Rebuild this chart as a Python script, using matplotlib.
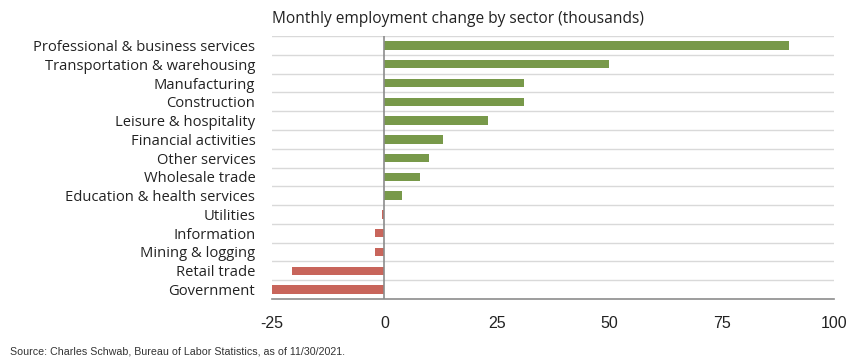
import matplotlib
matplotlib.use("Agg")
import matplotlib.pyplot as plt
import numpy as np

sectors = [
    "Professional & business services",
    "Transportation & warehousing",
    "Manufacturing",
    "Construction",
    "Leisure & hospitality",
    "Financial activities",
    "Other services",
    "Wholesale trade",
    "Education & health services",
    "Utilities",
    "Information",
    "Mining & logging",
    "Retail trade",
    "Government",
]
change = [90, 50, 31, 31, 23, 13, 10, 8, 4, -0.5, -2, -2, -20.5, -25]
x_ticks = [-25, 0, 25, 50, 75, 100]

GREEN = "#78994a"
RED = "#c8655b"

fig = plt.figure(figsize=(8.66, 3.61), dpi=100)
ax = fig.add_axes([0.314, 0.172, 0.649, 0.728])

y = np.arange(len(sectors))
colors = [GREEN if v >= 0 else RED for v in change]
ax.barh(y, change, height=0.45, color=colors, zorder=3)

ax.set_xlim(-25, 100)
ax.set_ylim(len(sectors) - 0.5, -0.5)

# light separators between categories
for b in np.arange(-0.5, len(sectors) - 0.5, 1.0):
    ax.axhline(b, color="#d9d9d9", linewidth=1.0, zorder=1)
ax.axvline(0, color="#8c8c8c", linewidth=1.2, zorder=4)

for s in ["top", "right", "left"]:
    ax.spines[s].set_visible(False)
ax.spines["bottom"].set_color("#8c8c8c")
ax.spines["bottom"].set_linewidth(1.2)

ax.set_yticks(y)
ax.set_yticklabels(sectors, fontsize=10.6, family="Open Sans", color="#222222")
ax.tick_params(axis="y", length=0, pad=12)

ax.set_xticks(x_ticks)
ax.set_xticklabels([str(t) for t in x_ticks], fontsize=11.5,
                   family="Liberation Sans", color="#222222")
ax.tick_params(axis="x", length=0, pad=12)

fig.text(0.314, 0.948, "Monthly employment change by sector (thousands)",
         fontsize=11.2, family="Open Sans", color="#222222", va="center")
fig.text(0.012, 0.025, "Source: Charles Schwab, Bureau of Labor Statistics, as of 11/30/2021.",
         fontsize=7.7, family="Liberation Sans", color="#333333", va="center")

fig.savefig("out.png", dpi=100)
